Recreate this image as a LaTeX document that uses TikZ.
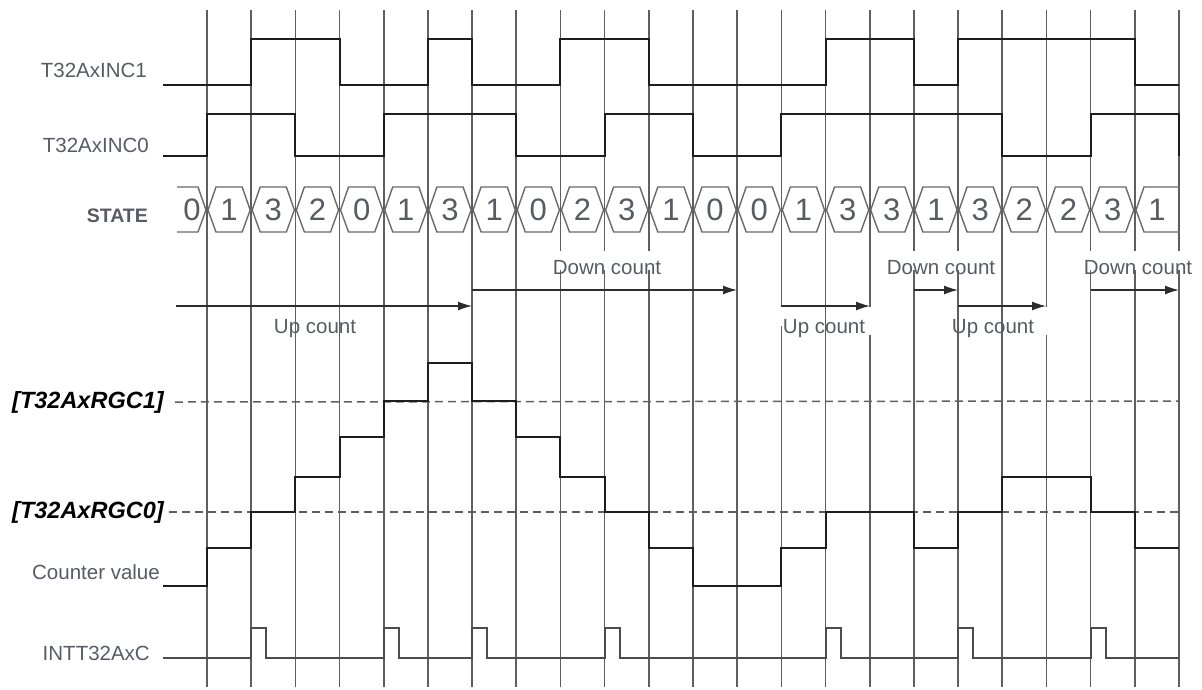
\documentclass[tikz,border=0pt]{standalone}
\usepackage{fontspec}
\setmainfont{Liberation Sans}
\usetikzlibrary{arrows.meta}
\definecolor{gridc}{RGB}{95,95,95}
\definecolor{sigc}{RGB}{30,30,30}
\definecolor{txtc}{RGB}{88,90,100}
\definecolor{hexc}{RGB}{105,105,105}
\definecolor{arrc}{RGB}{45,45,45}
\begin{document}
\begin{tikzpicture}[x=1pt,y=-1pt,
  grid/.style={line width=1.6pt, draw=gridc},
  sig/.style={line width=2.6pt, draw=sigc, line join=miter},
  pulse/.style={line width=1.8pt, draw=gridc!80!black},
  lbl/.style={text=txtc, font=\fontsize{20.5}{24}\selectfont, anchor=east, inner sep=0pt},
  cnt/.style={text=txtc, font=\fontsize{20.5}{24}\selectfont, inner sep=0pt},
  arr/.style={line width=1.3pt, draw=arrc, -{Latex[length=14pt,width=9pt]}},
  thr/.style={line width=1.5pt, draw=gridc, dash pattern=on 8pt off 5pt},
  hexa/.style={line width=1.4pt, draw=hexc},
  digit/.style={text=txtc, font=\fontsize{31}{36}\selectfont, inner sep=0pt},
  rgc/.style={font=\fontsize{23.5}{28}\selectfont\bfseries\itshape, text=black, anchor=west, inner sep=0pt}
]
\useasboundingbox (0,0) rectangle (1202,689);
% vertical grid lines
\foreach \i in {0,...,7,11,12,14,18}{
  \pgfmathsetmacro\xx{207+44.18*\i}
  \draw[grid] (\xx,10) -- (\xx,687);
}
\foreach \i in {8,9,10,16,17,20,21,22}{
  \pgfmathsetmacro\xx{207+44.18*\i}
  \draw[grid] (\xx,10) -- (\xx,251) (\xx,270) -- (\xx,687);
}
\foreach \i in {13}{
  \pgfmathsetmacro\xx{207+44.18*\i}
  \draw[grid] (\xx,10) -- (\xx,306) (\xx,326) -- (\xx,687);
}
\foreach \i in {15,19}{
  \pgfmathsetmacro\xx{207+44.18*\i}
  \draw[grid] (\xx,10) -- (\xx,307) (\xx,335) -- (\xx,687);
}
% labels
\node[lbl] (l1) at (147,70) {T32AxINC1};
\node[lbl] (l0) at (149,145) {T32AxINC0};
\node[lbl, font=\fontsize{19.5}{24}\selectfont\bfseries] (ls) at (148,216) {STATE};
\node[lbl] (lc) at (160,572) {Counter value};
\node[lbl] (li) at (150,653) {INTT32AxC};
\node[rgc] (r1) at (12,402) {[T32AxRGC1]};
\node[rgc] (r0) at (12,512) {[T32AxRGC0]};
% INC1
\draw[sig] (163,85) -- (251,85) -- (251,39) -- (340,39) -- (340,85) -- (428,85) -- (428,39) -- (472,39) -- (472,85) -- (560,85) -- (560,39) -- (649,39) -- (649,85) -- (826,85) -- (826,39) -- (914,39) -- (914,85) -- (958,85) -- (958,39) -- (1135,39) -- (1135,85) -- (1179,85);
% INC0
\draw[sig] (163,156) -- (207,156) -- (207,114) -- (295,114) -- (295,156) -- (384,156) -- (384,114) -- (516,114) -- (516,156) -- (605,156) -- (605,114) -- (693,114) -- (693,156) -- (781,156) -- (781,114) -- (1002,114) -- (1002,156) -- (1091,156) -- (1091,114) -- (1179,114) -- (1179,156);
% STATE bus
\draw[hexa] (177,187) -- (198,187) -- (206,210) -- (198,232) -- (177,232);
\node[digit] (s0) at (192,210) {0};
\foreach \v [count=\i from 0] in {1,3,2,0,1,3,1,0,2,3,1,0,0,1,3,3,1,3,2,2,3}{
  \pgfmathsetmacro\xa{207+44.18*\i}
  \pgfmathsetmacro\xb{207+44.18*(\i+1)}
  \draw[hexa] (\xa+1,210) -- (\xa+9,187) -- (\xb-9,187) -- (\xb-1,210) -- (\xb-9,232) -- (\xa+9,232) -- cycle;
  \node[digit] (s\i) at ({(\xa+\xb)/2},210) {\v};
}
\draw[hexa] (1179,187) -- (1144,187) -- (1136,210) -- (1144,232) -- (1179,232);
\node[digit] (sl) at (1157,210) {1};
% count arrows
\coordinate (ua1s) at (176,306); \coordinate (ua1e) at (472,306);
\coordinate (da1s) at (472,290); \coordinate (da1e) at (737,290);
\coordinate (ua2s) at (781,306); \coordinate (ua2e) at (870,306);
\coordinate (da2s) at (914,290); \coordinate (da2e) at (958,290);
\coordinate (ua3s) at (958,306); \coordinate (ua3e) at (1046,306);
\coordinate (da3s) at (1091,290); \coordinate (da3e) at (1179,290);
\draw[arr] (ua1s) -- (ua1e);
\draw[arr] (da1s) -- (da1e);
\draw[arr] (ua2s) -- (ua2e);
\draw[arr] (da2s) -- (da2e);
\draw[arr] (ua3s) -- (ua3e);
\draw[arr] (da3s) -- (da3e);
\node[cnt] (uc1) at (315,329) {Up count};
\node[cnt] (dc1) at (607,268) {Down count};
\node[cnt] (uc2) at (824,329) {Up count};
\node[cnt] (dc2) at (941,268) {Down count};
\node[cnt] (uc3) at (993,329) {Up count};
\node[cnt] (dc3) at (1138,268) {Down count};
% thresholds
\draw[thr] (r1.east) ++(11,0) coordinate (t1s) -- (1179,401) coordinate (t1e);
\draw[thr] (r0.east) ++(5,0) coordinate (t0s) -- (1179,512) coordinate (t0e);
% counter value
\draw[sig] (163,586) -| (207,548) -| (251,512) -| (295,477) -| (340,437) -| (384,401) -| (428,363) -| (472,401) -| (516,437) -| (560,477) -| (605,512) -| (649,548) -| (693,586) -| (781,548) -| (826,512) -| (914,548) -| (958,512) -| (1002,477) -| (1091,512) -| (1135,548) -- (1179,548);
% interrupt pulses
\draw[pulse] (163,658) -| (251,628) -| (266,658) -| (384,628) -| (399,658) -| (472,628) -| (487,658) -| (605,628) -| (620,658) -| (826,628) -| (841,658) -| (958,628) -| (973,658) -| (1091,628) -| (1106,658) -- (1179,658);
\end{tikzpicture}
\end{document}
